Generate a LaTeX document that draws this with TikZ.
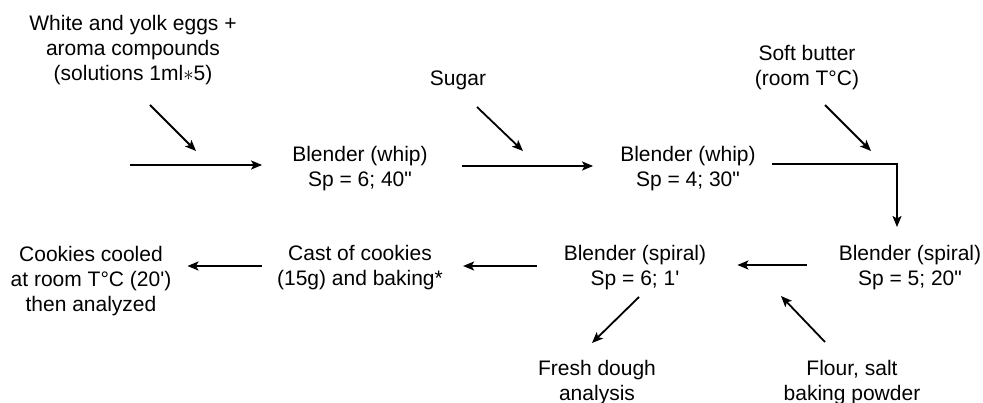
\documentclass[tikz,border=0pt]{standalone}
\usepackage{fontspec}
\setmainfont{Liberation Sans}
\usetikzlibrary{arrows.meta}
\begin{document}
\begin{tikzpicture}[x=1pt,y=-1pt,
  lbl/.style={align=center, inner sep=0pt, font=\fontsize{21}{25}\selectfont},
  arr/.style={line width=1.8pt, -{Stealth[length=11pt,width=9pt,inset=2.5pt]}}]
\useasboundingbox (0,0) rectangle (983,403);
% nodes
\node[lbl] (eggs) at (133,50) {White and yolk eggs +\\aroma compounds\\(solutions 1ml$\ast$5)};
\node[lbl] (sugar) at (458,80) {Sugar};
\node[lbl] (butter) at (807,67.5) {Soft butter\\(room T°C)};
\node[lbl] (b1) at (360,168.5) {Blender (whip)\\Sp = 6; 40\textquotedbl};
\node[lbl] (b2) at (688,168.5) {Blender (whip)\\Sp = 4; 30\textquotedbl};
\node[lbl] (b3) at (910,267.5) {Blender (spiral)\\Sp = 5; 20\textquotedbl};
\node[lbl] (b4) at (635,267.5) {Blender (spiral)\\Sp = 6; 1\textquotesingle};
\node[lbl] (cast) at (360,268) {Cast of cookies\\(15g) and baking*};
\node[lbl] (cool) at (91,281) {Cookies cooled\\at room T°C (20\textquotesingle)\\then analyzed};
\node[lbl] (fresh) at (597,382.5) {Fresh dough\\analysis};
\node[lbl] (flour) at (852,382.5) {Flour, salt\\baking powder};
% free ends
\coordinate (in1) at (130,165);
\coordinate (e1) at (150,105);
\coordinate (e2) at (196,151);
\coordinate (s1) at (477,107);
\coordinate (s2) at (523,151);
\coordinate (u1) at (825,105);
\coordinate (u2) at (871,151);
\coordinate (f1) at (639,297);
\coordinate (f2) at (592,343);
\coordinate (l1) at (825,342);
\coordinate (l2) at (781,296);
% connectors
\draw[arr] (in1) -- ([shift={(-30,-3.5)}]b1.west);
\draw[arr] ([shift={(34,-2.5)}]b1.east) -- ([shift={(-27,-2.5)}]b2.west);
\draw[arr] ([shift={(16,-4.5)}]b2.east) -| ([shift={(-13,-18)}]b3.north);
\draw[arr] ([shift={(-32,-2.5)}]b3.west) -- ([shift={(31,-2.5)}]b4.east);
\draw[arr] ([shift={(-27,-1.5)}]b4.west) -- ([shift={(20,-2)}]cast.east);
\draw[arr] ([shift={(-15,-2)}]cast.west) -- ([shift={(16,-15)}]cool.east);
\draw[arr] (e1) -- (e2);
\draw[arr] (s1) -- (s2);
\draw[arr] (u1) -- (u2);
\draw[arr] (f1) -- (f2);
\draw[arr] (l1) -- (l2);
\end{tikzpicture}
\end{document}
